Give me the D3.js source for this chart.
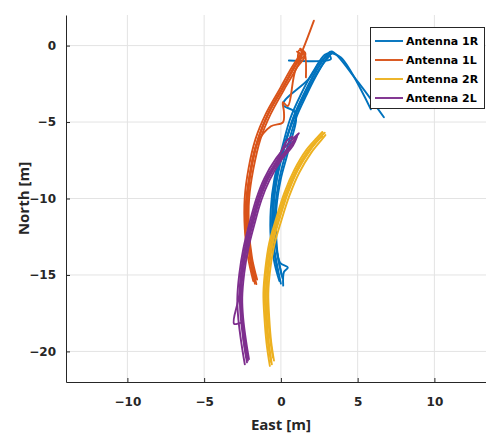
<!DOCTYPE html>
<html>
<head>
<meta charset="UTF-8">
<title>Antenna tracks</title>
<style>
html, body {
    margin: 0;
    padding: 0;
    background-color: #fff;
}
.grid line {
    stroke: #e3e3e3;
}
.track {
    fill: none;
    stroke-width: 1.9;
    stroke-linejoin: round;
    stroke-linecap: round;
}
.tick text {
    font-family: "DejaVu Sans", sans-serif;
    font-weight: bold;
    font-size: 12px;
    fill: #262626;
}
.label {
    font-family: "Open Sans", sans-serif;
    font-weight: bold;
    font-size: 15px;
    fill: #262626;
}
.legend text {
    font-family: "DejaVu Sans", sans-serif;
    font-weight: bold;
    font-size: 11px;
    fill: #000;
}
</style>
</head>
<body>
<div class="chart"></div>
<script src="https://cdn.jsdelivr.net/npm/d3@7/dist/d3.min.js"></script>
<script>
// series names and colours
let names = ['Antenna 1R', 'Antenna 1L', 'Antenna 2R', 'Antenna 2L'];
let colors = ['#0072BD', '#D95319', '#EDB120', '#7E2F8E'];

let xTicks = [-10, -5, 0, 5, 10];
let yTicks = [-20, -15, -10, -5, 0];

// each antenna: several passes, points are [east, north] in metres
let antenna1R = [
    [[0.00, -15.57], [-0.26, -14.27], [-0.52, -12.64], [-0.52, -10.68], [-0.26, -8.73], [0.20, -6.78], [0.78, -4.82], [1.50, -3.19], [2.28, -1.69], [3.00, -0.59], [3.32, -0.39], [4.89, -2.21], [6.71, -4.69]],
    [[0.10, -15.20], [-0.12, -14.20], [-0.38, -12.60], [-0.38, -10.70], [-0.10, -8.70], [0.38, -6.80], [0.96, -4.80], [1.68, -3.20], [2.45, -1.70], [3.15, -0.65], [3.25, -0.90], [0.52, -0.98]],
    [[-0.10, -15.40], [-0.40, -14.30], [-0.66, -12.60], [-0.66, -10.70], [-0.42, -8.70], [0.05, -6.80], [0.60, -4.80], [1.30, -3.20], [2.10, -1.70], [2.85, -0.60], [3.20, -0.50], [3.91, -0.78], [5.86, -4.17]],
    [[0.15, -15.70], [0.20, -14.80], [0.45, -14.50], [-0.05, -14.20], [-0.30, -12.60], [-0.30, -10.70], [0.00, -8.70], [0.50, -6.80], [0.95, -4.40], [0.13, -3.85], [1.80, -2.20], [2.60, -1.00], [3.30, -0.50]],
    [[-0.20, -14.80], [-0.48, -13.20], [-0.58, -11.50], [-0.48, -9.60], [-0.15, -7.80], [0.35, -6.10], [1.05, -4.30], [1.85, -2.70], [2.60, -1.40], [3.10, -0.75], [3.35, -0.45]],
    [[0.05, -15.00], [-0.20, -13.80], [-0.45, -12.20], [-0.45, -10.20], [-0.20, -8.30], [0.28, -6.40], [0.85, -4.60], [1.58, -3.00], [2.35, -1.55], [3.05, -0.55]]
];

let antenna1L = [
    [[-1.69, -15.57], [-2.02, -13.94], [-2.21, -11.99], [-2.21, -10.03], [-1.95, -8.08], [-1.50, -6.12], [-0.85, -4.50], [0.07, -2.87], [0.98, -1.24], [1.43, -0.26], [2.15, 1.63]],
    [[-1.55, -15.30], [-1.88, -13.90], [-2.08, -12.00], [-2.07, -10.00], [-1.80, -8.10], [-1.33, -6.10], [-0.68, -4.50], [0.22, -2.85], [1.10, -1.30], [1.30, -0.60], [1.05, -0.40]],
    [[-1.80, -15.40], [-2.15, -13.80], [-2.35, -12.00], [-2.36, -10.00], [-2.10, -8.00], [-1.65, -6.10], [-1.00, -4.50], [-0.08, -2.85], [0.85, -1.20], [1.50, -0.40], [1.63, -2.08]],
    [[-1.60, -15.60], [-1.95, -14.00], [-2.28, -12.50], [-2.30, -10.50], [-2.02, -8.40], [-1.55, -6.40], [-0.65, -5.28], [0.13, -5.02], [0.20, -4.36], [0.13, -3.71], [0.45, -3.95], [0.95, -1.60], [1.55, -0.70], [1.20, -0.30], [1.10, -0.85]],
    [[-1.75, -15.00], [-2.05, -13.30], [-2.18, -11.40], [-2.14, -9.40], [-1.85, -7.50], [-1.38, -5.80], [-0.75, -4.30], [0.15, -2.70], [1.05, -1.10], [1.60, -0.55], [1.25, -0.20]],
    [[-1.65, -15.20], [-1.97, -13.60], [-2.15, -11.70], [-2.14, -9.70], [-1.88, -7.80], [-1.42, -5.95], [-0.80, -4.40], [0.10, -2.80], [1.00, -1.20], [1.45, -0.50]]
];

let antenna2R = [
    [[-0.59, -20.85], [-0.78, -19.48], [-0.91, -17.85], [-0.98, -16.22], [-0.85, -14.59], [-0.59, -12.96], [-0.13, -11.34], [0.39, -9.71], [1.04, -8.21], [1.82, -6.91], [2.48, -6.12], [2.80, -5.73]],
    [[-0.45, -20.60], [-0.63, -19.40], [-0.76, -17.80], [-0.82, -16.20], [-0.69, -14.60], [-0.42, -13.00], [0.04, -11.40], [0.56, -9.80], [1.20, -8.30], [1.98, -7.00], [2.62, -6.20], [2.90, -5.85]],
    [[-0.72, -20.95], [-0.93, -19.50], [-1.07, -17.85], [-1.14, -16.20], [-1.01, -14.55], [-0.76, -12.90], [-0.30, -11.28], [0.22, -9.64], [0.88, -8.12], [1.66, -6.82], [2.34, -6.04], [2.70, -5.65]],
    [[-0.52, -20.40], [-0.70, -19.20], [-0.84, -17.60], [-0.90, -16.00], [-0.77, -14.40], [-0.50, -12.80], [-0.05, -11.20], [0.47, -9.60], [1.12, -8.10], [1.90, -6.85], [2.55, -6.05], [2.70, -5.95]],
    [[-0.64, -20.70], [-0.85, -19.40], [-0.99, -17.70], [-1.06, -16.10], [-0.93, -14.50], [-0.67, -12.90], [-0.22, -11.30], [0.30, -9.70], [0.96, -8.20], [1.74, -6.90], [2.41, -6.10], [2.86, -5.70]]
];

let antenna2L = [
    [[-2.21, -20.72], [-2.41, -19.48], [-2.61, -17.85], [-2.67, -16.55], [-2.54, -14.92], [-2.28, -13.29], [-1.89, -11.66], [-1.43, -10.03], [-0.91, -8.73], [-0.13, -7.43], [0.65, -6.45], [1.17, -5.73]],
    [[-2.08, -20.50], [-2.26, -19.40], [-2.46, -17.80], [-2.52, -16.50], [-2.39, -14.90], [-2.13, -13.30], [-1.73, -11.70], [-1.27, -10.10], [-0.74, -8.80], [0.02, -7.50], [0.78, -6.55], [1.05, -5.95]],
    [[-2.35, -20.85], [-2.56, -19.55], [-2.77, -17.90], [-2.84, -16.60], [-2.71, -14.95], [-2.45, -13.30], [-2.05, -11.62], [-1.59, -9.98], [-1.08, -8.68], [-0.30, -7.36], [0.50, -6.38], [1.10, -5.80]],
    [[-2.25, -20.40], [-2.45, -19.10], [-2.55, -18.15], [-3.05, -18.20], [-2.73, -16.40], [-2.60, -14.80], [-2.34, -13.20], [-1.95, -11.60], [-1.50, -10.00], [-0.98, -8.70], [-0.20, -7.40], [0.40, -6.20], [0.75, -5.95]],
    [[-2.15, -20.60], [-2.34, -19.30], [-2.54, -17.70], [-2.60, -16.40], [-2.47, -14.80], [-2.21, -13.20], [-1.81, -11.60], [-1.35, -10.00], [-0.82, -8.70], [-0.05, -7.45], [0.72, -6.50], [0.95, -6.10]]
];

let tracks = [antenna1R, antenna1L, antenna2R, antenna2L];

let width = 486, height = 433;
let plotLeft = 66, plotTop = 15, plotBottom = 382;

let svg = d3.select('.chart').append('svg')
    .attr('width', width)
    .attr('height', height);

let xScale = d3.scaleLinear().domain([-14, 14]).range([plotLeft, plotLeft + 28 * 15.35]);
let yScale = d3.scaleLinear().domain([-22, 2]).range([plotBottom, plotTop]);

// grid
let grid = svg.append('g').attr('class', 'grid');
grid.selectAll('line.v').data(xTicks).enter().append('line')
    .attr('class', 'v')
    .attr('x1', (d) => xScale(d)).attr('x2', (d) => xScale(d))
    .attr('y1', plotTop).attr('y2', plotBottom);
grid.selectAll('line.h').data(yTicks).enter().append('line')
    .attr('class', 'h')
    .attr('x1', plotLeft).attr('x2', width)
    .attr('y1', (d) => yScale(d)).attr('y2', (d) => yScale(d));

let line = d3.line()
    .curve(d3.curveCatmullRom.alpha(0.5))
    .x((d) => xScale(d[0]))
    .y((d) => yScale(d[1]));

tracks.forEach((passes, i) => {
    svg.append('g')
        .selectAll('path').data(passes).enter().append('path')
        .attr('class', 'track')
        .attr('stroke', colors[i])
        .attr('d', line);
});

// axes
let xAxis = d3.axisBottom(xScale).tickValues(xTicks).tickSizeInner(-4).tickSizeOuter(0).tickPadding(15);
let yAxis = d3.axisLeft(yScale).tickValues(yTicks).tickSizeInner(-4).tickSizeOuter(0).tickPadding(10);

svg.append('g').attr('transform', `translate(0,${plotBottom})`).call(xAxis);
svg.append('g').attr('transform', `translate(${plotLeft},0)`).call(yAxis);
svg.selectAll('.domain, .tick line').attr('stroke', '#262626');

svg.append('text').attr('class', 'label')
    .attr('x', xScale(0)).attr('y', 430)
    .attr('text-anchor', 'middle')
    .text('East [m]');

svg.append('text').attr('class', 'label')
    .attr('transform', `translate(29,${(plotTop + plotBottom) / 2}) rotate(-90)`)
    .attr('text-anchor', 'middle')
    .text('North [m]');

// legend
let legend = svg.append('g').attr('class', 'legend');
legend.append('rect')
    .attr('x', 370.5).attr('y', 27.5)
    .attr('width', 114).attr('height', 81)
    .attr('fill', '#fff').attr('stroke', '#262626');
names.forEach((n, i) => {
    let y = 41 + i * 19;
    legend.append('line')
        .attr('x1', 375).attr('x2', 403)
        .attr('y1', y).attr('y2', y)
        .attr('stroke', colors[i]).attr('stroke-width', 1.9);
    legend.append('text')
        .attr('x', 406).attr('y', y + 4)
        .text(n);
});
</script>
</body>
</html>
